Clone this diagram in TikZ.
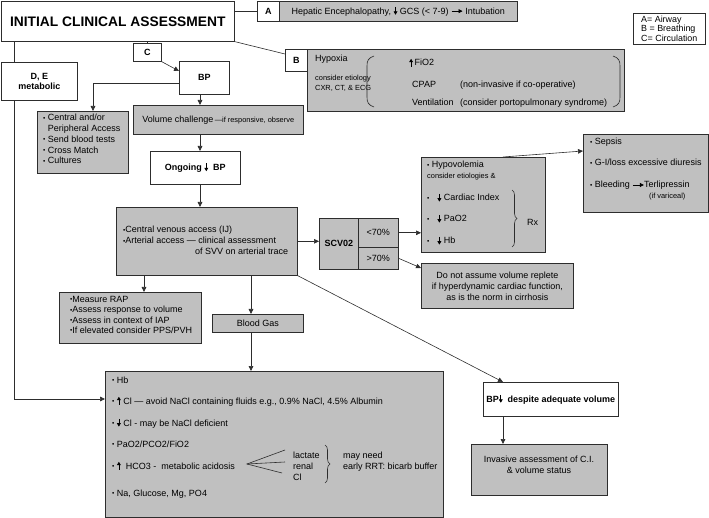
\documentclass[tikz,border=0pt]{standalone}
\usepackage{fontspec}
\setmainfont{Liberation Sans}
\usetikzlibrary{arrows.meta,calc,decorations.pathreplacing}
\definecolor{boxgrey}{RGB}{192,192,192}
\definecolor{edgec}{RGB}{45,45,45}
\newcommand{\bodyf}{\fontsize{9}{10.5}\selectfont}
\newcommand{\smallf}{\fontsize{7.4}{9}\selectfont}
\newcommand{\bul}{{\fontsize{6.5}{6}\selectfont\raisebox{0.7pt}{•}}}
\newcommand{\dnA}{\tikz[baseline=0pt,x=1pt,y=1pt]\draw[line width=0.7pt,-{Triangle[length=3.4pt,width=3.8pt]}] (0,7.2) -- (0,-0.6);}
\newcommand{\upA}{\tikz[baseline=0pt,x=1pt,y=1pt]\draw[line width=0.7pt,-{Triangle[length=3.4pt,width=3.8pt]}] (0,-0.6) -- (0,7.2);}
\newcommand{\rtA}{\tikz[baseline=0pt,x=1pt,y=1pt]\draw[line width=0.7pt,-{Triangle[length=4pt,width=4pt]}] (0,3) -- (11,3);}
\tikzset{
  gbox/.style={draw=edgec, fill=boxgrey, line width=0.6pt, inner sep=0pt, anchor=north west, font=\bodyf},
  wbox/.style={draw=edgec, fill=white, line width=0.6pt, inner sep=0pt, anchor=north west, font=\bodyf},
  txt/.style={inner sep=0pt, font=\bodyf},
  stxt/.style={inner sep=0pt, font=\smallf},
  arr/.style={draw=edgec, line width=0.6pt, -{Triangle[length=5pt,width=4.6pt]}},
  ln/.style={draw=edgec, line width=0.6pt},
  bracee/.style={draw=edgec, line width=0.6pt, decorate, decoration={brace, amplitude=5pt}},
}
\newcommand{\mkbox}[7]{\node[#1,minimum width=#5pt,minimum height=#6pt] (#2) at (#3,#4) {#7};}
\begin{document}
\begin{tikzpicture}[x=1pt,y=-1pt]
\useasboundingbox (0,0) rectangle (709,518);

% ---------- boxes ----------
\mkbox{wbox}{title}{1}{1}{233}{40}{\fontsize{13.8}{16}\selectfont\bfseries INITIAL CLINICAL ASSESSMENT}
\mkbox{wbox}{Abox}{257}{1}{22}{20}{\bfseries A}
\mkbox{gbox}{Atext}{279}{1}{238}{20}{Hepatic Encephalopathy, \dnA\ GCS (< 7-9) \rtA\ Intubation}
\node[wbox, minimum width=72pt, minimum height=31pt, align=left, inner xsep=3pt, font=\fontsize{8.9}{9.8}\selectfont] (legend) at (633,13) {A= Airway\\B = Breathing\\C= Circulation};
\mkbox{wbox}{Bbox}{285}{49}{22}{22}{\bfseries B}
\mkbox{gbox}{Btext}{307}{49}{317}{62}{}
\node[wbox, minimum width=76pt, minimum height=38pt, align=center, font=\bodyf\bfseries] (DE) at (1,62) {D, E\\metabolic};
\mkbox{wbox}{Cbox}{133}{43}{28}{18}{\bfseries C}
\mkbox{wbox}{BP}{179}{61}{50}{33}{\bfseries BP}
\mkbox{gbox}{vol}{133}{105}{170}{29}{Volume challenge{\smallf\,---if responsive, observe}}
\mkbox{gbox}{central}{37}{111}{91}{62}{}
\mkbox{wbox}{ongoing}{150}{151}{90}{33}{\bfseries Ongoing \dnA\ \ BP}
\mkbox{gbox}{CV}{116}{207}{181}{68}{}
\mkbox{gbox}{SCV}{319}{218}{39}{51}{\bfseries SCV02}
\mkbox{gbox}{lt}{358}{218}{40}{29}{<70\%}
\mkbox{gbox}{gt}{358}{247}{40}{22}{>70\%}
\mkbox{gbox}{hypo}{421}{157}{124}{95}{}
\mkbox{gbox}{sepsis}{583}{134}{125}{78}{}
\node[gbox, minimum width=152pt, minimum height=45pt, align=center, font=\fontsize{9}{11}\selectfont] (donot) at (421,263) {Do not assume volume replete\\if hyperdynamic cardiac function,\\as is the norm in cirrhosis};
\mkbox{gbox}{RAP}{59}{292}{142}{51}{}
\mkbox{gbox}{BG}{212}{314}{91}{18}{Blood Gas}
\mkbox{gbox}{big}{105}{371}{338}{146}{}
\mkbox{wbox}{BPd}{483}{382}{135}{34}{\bfseries BP\dnA\ \ despite adequate volume}
\mkbox{gbox}{inv}{471}{444}{136}{51}{}

% ---------- texts inside boxes ----------
% B box
\node[txt, anchor=base west] (hyx) at (315,62) {Hypoxia};
\node[stxt, anchor=north west, align=left, font=\fontsize{7.4}{9.5}\selectfont] (etio) at (315,75) {consider etiology\\CXR, CT, \& ECG};
\draw[ln] (374,56) .. controls (368,58) and (367,61) .. (367,66) -- (367,97) .. controls (367,102) and (368,105) .. (374,107);
\draw[ln] (613,56) .. controls (619,58) and (620,61) .. (620,66) -- (620,97) .. controls (620,102) and (619,105) .. (613,107);
\node[txt, anchor=base west] (fio) at (409,66) {\upA\,FiO2};
\node[txt, anchor=base west] (cpap) at (412,88) {CPAP};
\node[txt, anchor=base west] (cpapn) at (460,88) {(non-invasive if co-operative)};
\node[txt, anchor=base west] (vent) at (412,106) {Ventilation};
\node[txt, anchor=base west] (ventn) at (460,106) {(consider portopulmonary syndrome)};
% central access box
\node[txt, anchor=north west, align=left, font=\fontsize{9}{10.8}\selectfont] (centralt) at (43,114) {\bul\ Central and/or\\\phantom{\bul\ }Peripheral Access\\\bul\ Send blood tests\\\bul\ Cross Match\\\bul\ Cultures};
% CV box
\node[txt, anchor=base west] (cv1) at (123,233) {\bul Central venous access (IJ)};
\node[txt, anchor=base west] (cv2) at (123,244) {\bul Arterial access --- clinical assessment};
\node[txt, anchor=base west] (cv3) at (195,255) {of SVV on arterial trace};
% hypovolemia box
\node[txt, anchor=base west] (h1) at (427,168) {\bul\ Hypovolemia};
\node[stxt, anchor=base west] (h2) at (427,179) {consider etiologies \&};
\node[txt, anchor=base west] (h3) at (427,201) {\bul\hspace{8pt}\dnA\ Cardiac Index};
\node[txt, anchor=base west] (h4) at (427,222) {\bul\hspace{8pt}\dnA\ PaO2};
\node[txt, anchor=base west] (h5) at (427,244) {\bul\hspace{8pt}\dnA\ Hb};
\draw[bracee] (512,190) -- (512,247);
\node[txt, anchor=base west] (rx) at (527,226) {Rx};
% sepsis box
\node[txt, anchor=base west] (s1) at (590,145) {\bul\ Sepsis};
\node[txt, anchor=base west] (s2) at (590,166) {\bul\ G-I/loss excessive diuresis};
\node[txt, anchor=base west] (s3) at (590,188) {\bul\ Bleeding \rtA Terlipressin};
\node[stxt, anchor=base west] (s4) at (649,199) {(if variceal)};
% RAP box
\node[txt, anchor=north west, align=left, font=\fontsize{9}{10.4}\selectfont] (rapt) at (70,296) {\bul Measure RAP\\\bul Assess response to volume\\\bul Assess in context of IAP\\\bul If elevated consider PPS/PVH};
% big box
\node[txt, anchor=base west] (b1) at (112,383) {\bul\ Hb};
\node[txt, anchor=base west] (b2) at (112,404) {\bul\ \upA\ Cl --- avoid NaCl containing fluids e.g., 0.9\% NaCl, 4.5\% Albumin};
\node[txt, anchor=base west] (b3) at (112,426) {\bul\ \dnA\ Cl - may be NaCl deficient};
\node[txt, anchor=base west] (b4) at (112,447) {\bul\ PaO2/PCO2/FiO2};
\node[txt, anchor=base west] (b5) at (112,469) {\bul\ \upA\ \ HCO3 -\ \ metabolic acidosis};
\node[txt, anchor=base west] (b6) at (112,496) {\bul\ Na, Glucose, Mg, PO4};
\coordinate (apex) at (247,464);
\coordinate (f1) at (285,450);
\coordinate (f2) at (285,462);
\coordinate (f3) at (282,473);
\draw[ln] (f1) -- (apex) -- (f3);
\draw[ln] (apex) -- (f2);
\node[txt, anchor=base west] (l1) at (293,458) {lactate};
\node[txt, anchor=base west] (l2) at (293,469) {renal};
\node[txt, anchor=base west] (l3) at (293,480) {Cl};
\draw[bracee] (325,445) -- (325,483);
\node[txt, anchor=base west] (m1) at (343,458) {may need};
\node[txt, anchor=base west] (m2) at (343,469) {early RRT: bicarb buffer};
% invasive box
\node[txt, align=center, font=\fontsize{9}{11}\selectfont] (invt) at (539,464.5) {Invasive assessment of C.I.\\\& volume status};

% ---------- connectors ----------
\coordinate (dex) at (14,0);
\draw[ln] (title.east |- Abox.west) -- (Abox.west);
\draw[ln] (title.south east) -- ($(Bbox.north west)+(0,5)$);
\draw[ln] (title.south -| Cbox.north) -- (Cbox.north);
\draw[arr] (Cbox.south east) -- ($(BP.north west)+(0,10)$);
\draw[ln] (dex |- title.south) -- (dex |- DE.north);
\draw[arr] (dex |- DE.south) -- (dex |- 0,399) -- ($(big.north west)+(0,28)$);
\draw[arr] ($(BP.north west)+(0,22)$) -- ($(central.north west)+(56,0)+(0,-28)$) -- ($(central.north west)+(56,0)$);
\coordinate (colx) at (200,0);
\draw[arr] (colx |- BP.south) -- (colx |- vol.north);
\draw[arr] (colx |- vol.south) -- (colx |- ongoing.north);
\draw[arr] (colx |- ongoing.south) -- (colx |- CV.north);
\draw[arr] (CV.east) -- (SCV.west |- CV.east);
\draw[arr] (lt.east) -- (lt.east -| hypo.west);
\draw[arr] (gt.east) -- ($(donot.north west)+(0,5)$);
\draw[arr] ($(hypo.north west)+(82,0)$) -- ($(sepsis.north west)+(0,17)$);
\draw[arr] ($(CV.south west)+(28,0)$) -- ($(RAP.north west)+(85,0)$);
\draw[arr] ($(CV.south west)+(135,0)$) -- ($(BG.north west)+(39,0)$);
\draw[arr] ($(BG.south west)+(39,0)$) -- ($(big.north west)+(146,0)$);
\draw[arr] (CV.south east) -- ($(BPd.north west)+(20,0)$);
\draw[arr] ($(BPd.south west)+(20,0)$) -- ($(inv.north west)+(32,0)$);
\end{tikzpicture}
\end{document}
